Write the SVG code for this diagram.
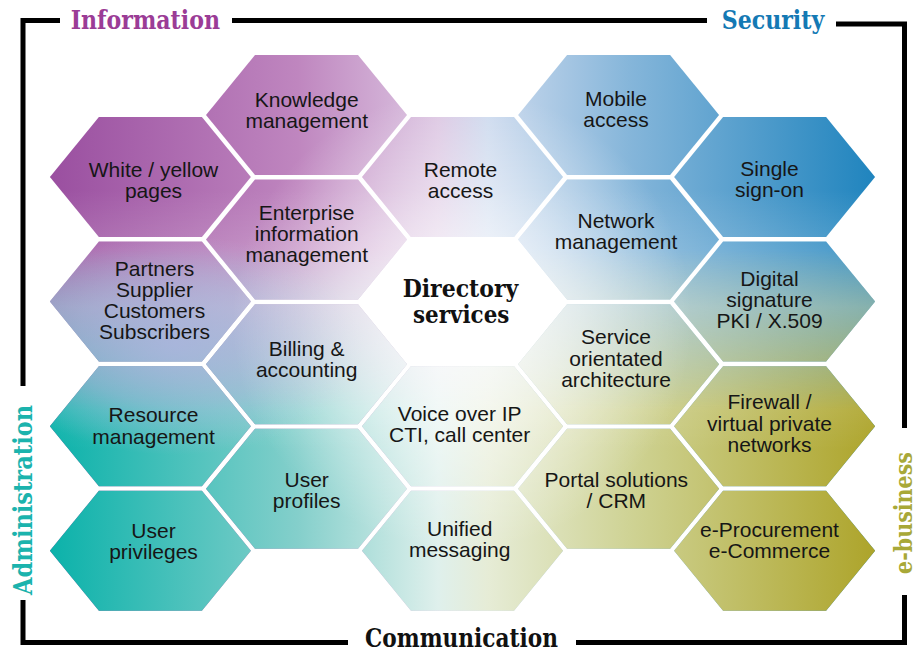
<svg xmlns="http://www.w3.org/2000/svg" width="921" height="648" viewBox="0 0 921 648">
<defs>
<style>
.node{fill:url(#gTop)}
.hb{fill:url(#gBot);mask:url(#mV)}
.hc{fill:url(#gC)}
.hd{fill:url(#gMid)}
.he{fill:url(#gLav)}
.t{fill:#161616;font-family:"Liberation Sans",Arial,sans-serif;font-size:21px;text-anchor:middle}
.ttl{font-family:"DejaVu Serif","Liberation Serif",serif;font-weight:bold;font-size:26px}
.frame{fill:none;stroke:#000;stroke-width:5;stroke-linejoin:miter}
</style>
<linearGradient id="gTop" gradientUnits="userSpaceOnUse" x1="50" y1="0" x2="876" y2="0">
<stop offset="0" stop-color="#9a4fa0"/>
<stop offset="0.3" stop-color="#bf86bf"/>
<stop offset="0.47" stop-color="#dcc6e2"/>
<stop offset="0.53" stop-color="#cddaee"/>
<stop offset="0.7" stop-color="#86b6da"/>
<stop offset="1" stop-color="#1f84be"/>
</linearGradient>
<linearGradient id="gBot" gradientUnits="userSpaceOnUse" x1="50" y1="0" x2="876" y2="0">
<stop offset="0" stop-color="#0bb2aa"/>
<stop offset="0.3" stop-color="#84cfcb"/>
<stop offset="0.47" stop-color="#dff0ec"/>
<stop offset="0.53" stop-color="#e6ecd6"/>
<stop offset="0.7" stop-color="#cfd395"/>
<stop offset="1" stop-color="#ada42a"/>
</linearGradient>
<linearGradient id="gMask" gradientUnits="userSpaceOnUse" x1="0" y1="250" x2="0" y2="410">
<stop offset="0" stop-color="#000"/>
<stop offset="1" stop-color="#fff"/>
</linearGradient>
<mask id="mV" maskUnits="userSpaceOnUse" x="0" y="0" width="921" height="648">
<rect width="921" height="648" fill="url(#gMask)"/>
</mask>
<radialGradient id="gC" gradientUnits="userSpaceOnUse" cx="462" cy="320" r="230">
<stop offset="0" stop-color="#fff" stop-opacity="0.85"/>
<stop offset="0.5" stop-color="#fff" stop-opacity="0.45"/>
<stop offset="1" stop-color="#fff" stop-opacity="0"/>
</radialGradient>
<linearGradient id="gMid" gradientUnits="userSpaceOnUse" x1="0" y1="190" x2="0" y2="450">
<stop offset="0" stop-color="#fff" stop-opacity="0"/>
<stop offset="0.45" stop-color="#fff" stop-opacity="0.3"/>
<stop offset="1" stop-color="#fff" stop-opacity="0"/>
</linearGradient>
<radialGradient id="gLav" gradientUnits="userSpaceOnUse" cx="0" cy="0" r="110" gradientTransform="translate(175,345) scale(1.7,1)">
<stop offset="0" stop-color="#aeb6e0" stop-opacity="0.8"/>
<stop offset="0.55" stop-color="#b2b8e0" stop-opacity="0.45"/>
<stop offset="1" stop-color="#b8bce2" stop-opacity="0"/>
</radialGradient>
</defs>
<rect width="921" height="648" fill="#fff"/>

<g id="frame">
<path class="frame" d="M60 20.5 H23 V386"/>
<path class="frame" d="M232 20.5 H707"/>
<path class="frame" d="M836 24 H904.5 V428"/>
<path class="frame" d="M904.5 595 V642.5 H576"/>
<path class="frame" d="M348 642.5 H23 V600"/>
</g>

<g id="titles">
<text class="ttl" x="70.7" y="29" textLength="149.3" lengthAdjust="spacingAndGlyphs" fill="#9b3c96">Information</text>
<text class="ttl" x="721.7" y="28.5" textLength="102.6" lengthAdjust="spacingAndGlyphs" fill="#1479b4">Security</text>
<text class="ttl" x="365" y="647" textLength="193" lengthAdjust="spacingAndGlyphs" fill="#111">Communication</text>
<text class="ttl" transform="translate(31.7,500) rotate(-90)" x="0" y="0" text-anchor="middle" textLength="190" lengthAdjust="spacingAndGlyphs" fill="#1bb3ad">Administration</text>
<text class="ttl" style="font-size:24px" transform="translate(911.7,513) rotate(-90)" x="0" y="0" text-anchor="middle" textLength="122" lengthAdjust="spacingAndGlyphs" fill="#a8a838">e-business</text>
</g>

<g id="nodes">
<g id="white-yellow-pages" class="node">
<polygon id="p1" points="49.9,177 98.9,117 201.9,117 250.9,177 201.9,237 98.9,237"/>
<use href="#p1" class="hb"/><use href="#p1" class="hd"/><use href="#p1" class="he"/><use href="#p1" class="hc"/>
<text class="t"><tspan x="153.5" y="177">White / yellow</tspan><tspan x="153.5" y="198">pages</tspan></text>
</g>
<g id="partners" class="node">
<polygon id="p2" points="49.9,301.6 98.9,241.6 201.9,241.6 250.9,301.6 201.9,361.6 98.9,361.6"/>
<use href="#p2" class="hb"/><use href="#p2" class="hd"/><use href="#p2" class="he"/><use href="#p2" class="hc"/>
<text class="t"><tspan x="154.5" y="276">Partners</tspan><tspan x="154.5" y="297">Supplier</tspan><tspan x="154.5" y="318">Customers</tspan><tspan x="154.5" y="339">Subscribers</tspan></text>
</g>
<g id="resource-management" class="node">
<polygon id="p3" points="49.9,426.2 98.9,366.2 201.9,366.2 250.9,426.2 201.9,486.2 98.9,486.2"/>
<use href="#p3" class="hb"/><use href="#p3" class="hd"/><use href="#p3" class="he"/><use href="#p3" class="hc"/>
<text class="t"><tspan x="153.5" y="422.3">Resource</tspan><tspan x="153.5" y="443.5">management</tspan></text>
</g>
<g id="user-privileges" class="node">
<polygon id="p4" points="49.9,550.8 98.9,490.8 201.9,490.8 250.9,550.8 201.9,610.8 98.9,610.8"/>
<use href="#p4" class="hb"/><use href="#p4" class="hd"/><use href="#p4" class="he"/><use href="#p4" class="hc"/>
<text class="t"><tspan x="153.5" y="538">User</tspan><tspan x="153.5" y="559">privileges</tspan></text>
</g>
<g id="knowledge-management" class="node">
<polygon id="p5" points="206,115 255,55 358,55 407,115 358,175 255,175"/>
<use href="#p5" class="hb"/><use href="#p5" class="hd"/><use href="#p5" class="he"/><use href="#p5" class="hc"/>
<text class="t"><tspan x="306.7" y="106.5">Knowledge</tspan><tspan x="306.7" y="127.5">management</tspan></text>
</g>
<g id="enterprise-information-management" class="node">
<polygon id="p6" points="206,239.6 255,179.6 358,179.6 407,239.6 358,299.6 255,299.6"/>
<use href="#p6" class="hb"/><use href="#p6" class="hd"/><use href="#p6" class="he"/><use href="#p6" class="hc"/>
<text class="t"><tspan x="306.7" y="220">Enterprise</tspan><tspan x="306.7" y="241">information</tspan><tspan x="306.7" y="262">management</tspan></text>
</g>
<g id="billing-accounting" class="node">
<polygon id="p7" points="206,364.2 255,304.2 358,304.2 407,364.2 358,424.2 255,424.2"/>
<use href="#p7" class="hb"/><use href="#p7" class="hd"/><use href="#p7" class="he"/><use href="#p7" class="hc"/>
<text class="t"><tspan x="306.7" y="356.3">Billing &amp;</tspan><tspan x="306.7" y="377">accounting</tspan></text>
</g>
<g id="user-profiles" class="node">
<polygon id="p8" points="206,488.8 255,428.8 358,428.8 407,488.8 358,548.8 255,548.8"/>
<use href="#p8" class="hb"/><use href="#p8" class="hd"/><use href="#p8" class="he"/><use href="#p8" class="hc"/>
<text class="t"><tspan x="306.7" y="486.7">User</tspan><tspan x="306.7" y="507.5">profiles</tspan></text>
</g>
<g id="remote-access" class="node">
<polygon id="p9" points="362,177 411,117 514,117 563,177 514,237 411,237"/>
<use href="#p9" class="hb"/><use href="#p9" class="hd"/><use href="#p9" class="hc"/>
<text class="t"><tspan x="460.5" y="177">Remote</tspan><tspan x="460.5" y="198">access</tspan></text>
</g>
<g id="directory-services">
<text class="ttl" style="font-size:24px" text-anchor="middle" fill="#111"><tspan x="460.5" y="297.3" textLength="115.6" lengthAdjust="spacingAndGlyphs">Directory</tspan></text>
<text class="ttl" style="font-size:24px" text-anchor="middle" fill="#111"><tspan x="461.2" y="323.3" textLength="96.3" lengthAdjust="spacingAndGlyphs">services</tspan></text>
</g>
<g id="voice-over-ip" class="node">
<polygon id="p10" points="362,426.2 411,366.2 514,366.2 563,426.2 514,486.2 411,486.2"/>
<use href="#p10" class="hb"/><use href="#p10" class="hd"/><use href="#p10" class="hc"/>
<text class="t"><tspan x="459.7" y="420.7">Voice over IP</tspan><tspan x="459.7" y="441.5">CTI, call center</tspan></text>
</g>
<g id="unified-messaging" class="node">
<polygon id="p11" points="362,550.8 411,490.8 514,490.8 563,550.8 514,610.8 411,610.8"/>
<use href="#p11" class="hb"/><use href="#p11" class="hd"/><use href="#p11" class="hc"/>
<text class="t"><tspan x="459.7" y="536">Unified</tspan><tspan x="459.7" y="557">messaging</tspan></text>
</g>
<g id="mobile-access" class="node">
<polygon id="p12" points="518.1,115 567.1,55 670.1,55 719.1,115 670.1,175 567.1,175"/>
<use href="#p12" class="hb"/><use href="#p12" class="hd"/><use href="#p12" class="hc"/>
<text class="t"><tspan x="616" y="106">Mobile</tspan><tspan x="616" y="127">access</tspan></text>
</g>
<g id="network-management" class="node">
<polygon id="p13" points="518.1,239.6 567.1,179.6 670.1,179.6 719.1,239.6 670.1,299.6 567.1,299.6"/>
<use href="#p13" class="hb"/><use href="#p13" class="hd"/><use href="#p13" class="hc"/>
<text class="t"><tspan x="616" y="228.3">Network</tspan><tspan x="616" y="249.3">management</tspan></text>
</g>
<g id="service-orientated-architecture" class="node">
<polygon id="p14" points="518.1,364.2 567.1,304.2 670.1,304.2 719.1,364.2 670.1,424.2 567.1,424.2"/>
<use href="#p14" class="hb"/><use href="#p14" class="hd"/><use href="#p14" class="hc"/>
<text class="t"><tspan x="616" y="344">Service</tspan><tspan x="616" y="365.5">orientated</tspan><tspan x="616" y="386.5">architecture</tspan></text>
</g>
<g id="portal-solutions" class="node">
<polygon id="p15" points="518.1,488.8 567.1,428.8 670.1,428.8 719.1,488.8 670.1,548.8 567.1,548.8"/>
<use href="#p15" class="hb"/><use href="#p15" class="hd"/><use href="#p15" class="hc"/>
<text class="t"><tspan x="616.3" y="486.7">Portal solutions</tspan><tspan x="616.3" y="508">/ CRM</tspan></text>
</g>
<g id="single-sign-on" class="node">
<polygon id="p16" points="674.1,177 723.1,117 826.1,117 875.1,177 826.1,237 723.1,237"/>
<use href="#p16" class="hb"/><use href="#p16" class="hd"/><use href="#p16" class="hc"/>
<text class="t"><tspan x="769.5" y="176">Single</tspan><tspan x="769.5" y="197">sign-on</tspan></text>
</g>
<g id="digital-signature" class="node">
<polygon id="p17" points="674.1,301.6 723.1,241.6 826.1,241.6 875.1,301.6 826.1,361.6 723.1,361.6"/>
<use href="#p17" class="hb"/><use href="#p17" class="hd"/><use href="#p17" class="hc"/>
<text class="t"><tspan x="769.5" y="286">Digital</tspan><tspan x="769.5" y="307">signature</tspan><tspan x="769.5" y="328">PKI / X.509</tspan></text>
</g>
<g id="firewall-vpn" class="node">
<polygon id="p18" points="674.1,426.2 723.1,366.2 826.1,366.2 875.1,426.2 826.1,486.2 723.1,486.2"/>
<use href="#p18" class="hb"/><use href="#p18" class="hd"/><use href="#p18" class="hc"/>
<text class="t"><tspan x="769.5" y="409">Firewall /</tspan><tspan x="769.5" y="430.7">virtual private</tspan><tspan x="769.5" y="452.3">networks</tspan></text>
</g>
<g id="e-procurement" class="node">
<polygon id="p19" points="674.1,550.8 723.1,490.8 826.1,490.8 875.1,550.8 826.1,610.8 723.1,610.8"/>
<use href="#p19" class="hb"/><use href="#p19" class="hd"/><use href="#p19" class="hc"/>
<text class="t"><tspan x="769.5" y="537.3">e-Procurement</tspan><tspan x="769.5" y="557.5">e-Commerce</tspan></text>
</g>
</g>
</svg>
